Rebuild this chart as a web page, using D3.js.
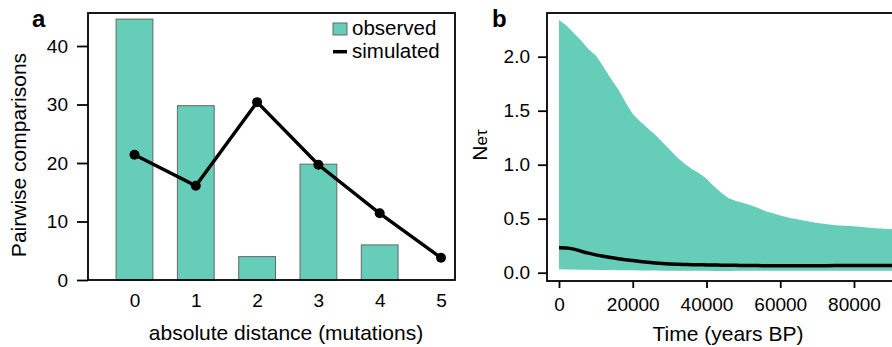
<!DOCTYPE html>
<html>
<head>
<meta charset="utf-8">
<script src="https://cdn.jsdelivr.net/npm/d3@7"></script>
<style>
  body { margin: 0; background: #fff; }
  svg text { font-family: "Liberation Sans", Arial, sans-serif; fill: #000; }
</style>
</head>
<body>
<div id="chart"></div>
<script>
// panel a data
var distances = [0, 1, 2, 3, 4, 5];
var observed = [44.6, 29.8, 4.0, 19.8, 6.0];
var simulated = [21.4, 16.1, 30.4, 19.7, 11.4, 3.8];
var yTicksA = [0, 10, 20, 30, 40];

// panel b data (skyline plot)
var timeGrid = [0, 2000, 4000, 6000, 8000, 10000, 12000, 14000, 16000, 18000, 20000,
  22000, 24000, 26000, 28000, 30000, 32000, 34000, 36000, 38000, 40000, 42000, 44000,
  46000, 48000, 50000, 52000, 54000, 56000, 58000, 60000, 63000, 66000, 70000, 75000,
  80000, 85000, 91000];
var upperHPD = [2.34, 2.29, 2.22, 2.15, 2.07, 2.01, 1.91, 1.80, 1.70, 1.58, 1.47,
  1.40, 1.34, 1.28, 1.21, 1.14, 1.07, 1.01, 0.96, 0.92, 0.87, 0.80, 0.74,
  0.69, 0.665, 0.645, 0.625, 0.60, 0.57, 0.55, 0.53, 0.505, 0.485, 0.46, 0.44,
  0.43, 0.415, 0.40];
var lowerHPD = [0.031, 0.030, 0.029, 0.028, 0.027, 0.026, 0.025, 0.024, 0.023, 0.022, 0.022,
  0.021, 0.020, 0.020, 0.019, 0.019, 0.018, 0.018, 0.017, 0.017, 0.017, 0.016, 0.016,
  0.016, 0.017, 0.017, 0.017, 0.018, 0.018, 0.018, 0.018, 0.019, 0.019, 0.019, 0.019,
  0.019, 0.019, 0.019];
var medianNe = [0.231, 0.229, 0.218, 0.199, 0.181, 0.165, 0.152, 0.140, 0.130, 0.120, 0.112,
  0.104, 0.096, 0.090, 0.085, 0.081, 0.078, 0.076, 0.074, 0.073, 0.072, 0.071, 0.070,
  0.069, 0.068, 0.067, 0.066, 0.066, 0.065, 0.065, 0.065, 0.065, 0.065, 0.065, 0.066,
  0.066, 0.066, 0.067];
var xTicksB = [0, 20000, 40000, 60000, 80000];
var yTicksB = [0, 0.5, 1.0, 1.5, 2.0];

var teal = "#66cdb9";

var svg = d3.select("#chart")
  .append("svg")
  .attr("width", 892)
  .attr("height", 347);

// ============ panel a ============
var boxA = { left: 88, right: 455, top: 13, bottom: 280 };

var xA = d3.scaleLinear().domain([0, 5]).range([134.5, 441]);
var yA = d3.scaleLinear().domain([0, 40]).range([280, 46]);

var gA = svg.append("g");

// bars
var barW = xA(0.6) - xA(0);
gA.selectAll("rect.bar")
  .data(observed)
  .enter()
  .append("rect")
  .attr("class", "bar")
  .attr("x", (d, i) => xA(distances[i]) - barW / 2)
  .attr("y", d => yA(d))
  .attr("width", barW)
  .attr("height", d => yA(0) - yA(d))
  .attr("fill", teal)
  .attr("stroke", "#666")
  .attr("stroke-width", 1);

// simulated line + points
var lineA = d3.line()
  .x((d, i) => xA(distances[i]))
  .y(d => yA(d));

gA.append("path")
  .datum(simulated)
  .attr("d", lineA)
  .attr("fill", "none")
  .attr("stroke", "#000")
  .attr("stroke-width", 3.4);

gA.selectAll("circle")
  .data(simulated)
  .enter()
  .append("circle")
  .attr("cx", (d, i) => xA(distances[i]))
  .attr("cy", d => yA(d))
  .attr("r", 5)
  .attr("fill", "#000");

// frame
gA.append("rect")
  .attr("x", boxA.left).attr("y", boxA.top)
  .attr("width", boxA.right - boxA.left)
  .attr("height", boxA.bottom - boxA.top)
  .attr("fill", "none")
  .attr("stroke", "#000")
  .attr("stroke-width", 1.8);

// axes
var yAxisA = gA.append("g")
  .attr("transform", `translate(${boxA.left},0)`)
  .call(d3.axisLeft(yA).tickValues(yTicksA).tickSize(11).tickPadding(9));

var xAxisA = gA.append("g")
  .attr("transform", `translate(0,${boxA.bottom})`)
  .call(d3.axisBottom(xA).tickValues(distances).tickFormat(d3.format("d")).tickSize(0).tickPadding(14));

// ============ panel b ============
var boxB = { left: 547, right: 900, top: 13, bottom: 281 };

var xB = d3.scaleLinear().domain([0, 80000]).range([559, 854]);
var yB = d3.scaleLinear().domain([0, 2]).range([272.7, 56.7]);

var gB = svg.append("g");

var band = d3.area()
  .x((d, i) => xB(timeGrid[i]))
  .y0((d, i) => yB(lowerHPD[i]))
  .y1(d => yB(d))
  .curve(d3.curveLinear);

gB.append("path")
  .datum(upperHPD)
  .attr("d", band)
  .attr("fill", teal);

var medLine = d3.line()
  .x((d, i) => xB(timeGrid[i]))
  .y(d => yB(d))
  .curve(d3.curveMonotoneX);

gB.append("path")
  .datum(medianNe)
  .attr("d", medLine)
  .attr("fill", "none")
  .attr("stroke", "#000")
  .attr("stroke-width", 3.5);

gB.append("rect")
  .attr("x", boxB.left).attr("y", boxB.top)
  .attr("width", boxB.right - boxB.left)
  .attr("height", boxB.bottom - boxB.top)
  .attr("fill", "none")
  .attr("stroke", "#000")
  .attr("stroke-width", 1.8);

var yAxisB = gB.append("g")
  .attr("transform", `translate(${boxB.left},0)`)
  .call(d3.axisLeft(yB).tickValues(yTicksB).tickFormat(d3.format(".1f")).tickSize(9).tickPadding(8));

var xAxisB = gB.append("g")
  .attr("transform", `translate(0,${boxB.bottom})`)
  .call(d3.axisBottom(xB).tickValues(xTicksB).tickFormat(d3.format("d")).tickSize(7).tickPadding(9.5));

// axis styling
svg.selectAll(".domain").remove();
svg.selectAll(".tick line").attr("stroke", "#000").attr("stroke-width", 1.8);
svg.selectAll(".tick text").style("font-size", "19px").attr("fill", "#000");

// ============ labels ============
svg.append("text")
  .attr("x", 32).attr("y", 27)
  .style("font-size", "24px").style("font-weight", "bold")
  .text("a");

svg.append("text")
  .attr("x", 492).attr("y", 27)
  .style("font-size", "24px").style("font-weight", "bold")
  .text("b");

svg.append("text")
  .attr("transform", "translate(26,155) rotate(-90)")
  .style("text-anchor", "middle")
  .style("font-size", "21px")
  .text("Pairwise comparisons");

svg.append("text")
  .attr("x", 286).attr("y", 340)
  .style("text-anchor", "middle")
  .style("font-size", "21px")
  .text("absolute distance (mutations)");

svg.append("text")
  .attr("x", 728).attr("y", 341)
  .style("text-anchor", "middle")
  .style("font-size", "21px")
  .text("Time (years BP)");

var neLabel = svg.append("text")
  .attr("transform", "translate(487,145) rotate(-90)")
  .style("text-anchor", "middle");
neLabel.append("tspan").style("font-size", "21px").text("N");
neLabel.append("tspan").style("font-size", "17px").text("eτ");

// legend
var legend = svg.append("g");
legend.append("rect")
  .attr("x", 333).attr("y", 23)
  .attr("width", 14).attr("height", 12)
  .attr("fill", teal)
  .attr("stroke", "#666")
  .attr("stroke-width", 1);
legend.append("text")
  .attr("x", 352).attr("y", 35)
  .style("font-size", "20.5px")
  .text("observed");
legend.append("line")
  .attr("x1", 333).attr("x2", 347)
  .attr("y1", 51.7).attr("y2", 51.7)
  .attr("stroke", "#000")
  .attr("stroke-width", 3.5);
legend.append("text")
  .attr("x", 352).attr("y", 58.3)
  .style("font-size", "20.5px")
  .text("simulated");
</script>
</body>
</html>
